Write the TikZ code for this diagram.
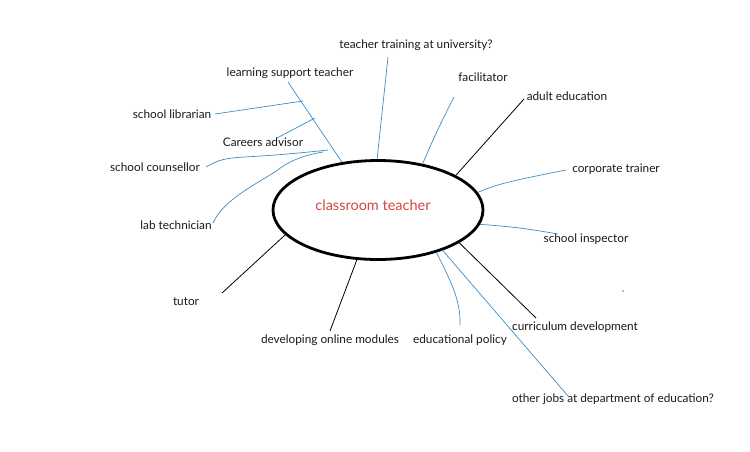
\documentclass[tikz,border=0pt]{standalone}
\usepackage{fontspec}
\setmainfont{Lato}
\usetikzlibrary{shapes.geometric}
\definecolor{lineblue}{RGB}{62,140,196}
\definecolor{ctred}{RGB}{214,69,65}
\definecolor{txt}{RGB}{25,25,25}
\tikzset{
    job/.style={font=\fontsize{11.8}{13}\selectfont, text=txt, inner sep=0pt},
    blueline/.style={draw=lineblue, line width=0.7pt},
    blackline/.style={draw=black, line width=0.8pt}
}

\begin{document}
\begin{tikzpicture}[x=1pt, y=-1pt]
  \useasboundingbox (0,0) rectangle (750,451);
  \node (ct) [ellipse, draw, line width=2.8pt, minimum width=210pt, minimum height=99pt] at (378,210) {};
  \node (ct_t) [text=ctred, font=\fontsize{14.5}{16}\selectfont] at (373,205) {classroom teacher};

  \node (tt) [job] at (416,45) {teacher training at university?};
  \node (lst) [job] at (290,73) {learning support teacher};
  \node (fa) [job] at (483,77) {facilitator};
  \node (ae) [job] at (567,96) {adult education};
  \node (lib) [job] at (172,114) {school librarian};
  \node (ca) [job] at (263,142) {Careers advisor};
  \node (sc) [job] at (155,167) {school counsellor};
  \node (corp) [job] at (616,169) {corporate trainer};
  \node (lab) [job] at (176,225) {lab technician};
  \node (si) [job] at (586,239) {school inspector};
  \node (tu) [job] at (186,302) {tutor};
  \node (dom) [job] at (330,340) {developing online modules};
  \node (ep) [job] at (460,340) {educational policy};
  \node (cd) [job] at (575,327) {curriculum development};
  \node (oj) [job] at (613,399) {other jobs at department of education?};

  \coordinate (tt_e) at (388,57);
  \coordinate (fa_e) at (454,97);
  \coordinate (ae_e) at (524,99);
  \coordinate (corp_e) at (566,170);
  \coordinate (si_e) at (558,234);
  \coordinate (cd_e) at (536,318);
  \coordinate (oj_e) at (568,396);
  \coordinate (ep_e) at (460,325);
  \coordinate (dom_e) at (330,331);
  \coordinate (tu_e) at (222,293);
  \coordinate (lst_e) at (288,82);
  \coordinate (lst_1) at (303,101);
  \coordinate (lst_2) at (315,118);
  \coordinate (lst_3) at (328,150);
  \coordinate (lst_4) at (323,152);
  \coordinate (lib_e) at (215,114);
  \coordinate (ca_e) at (277,138);
  \coordinate (sc_e) at (206,167);
  \coordinate (lab_e) at (213,223);

  % black spokes
  \draw [blackline] (ct.24) -- (ae_e);
  \draw [blackline] (ct.195) -- (tu_e);
  \draw [blackline] (ct.247) -- (dom_e);
  \draw [blackline] (ct.-22) -- (cd_e);

  % blue spokes
  \draw [blueline] (tt_e) -- (ct.91);
  \draw [blueline] (fa_e) to [bend right=2] (ct.46);
  \draw [blueline] (ct.10) .. controls (495,185) and (505,182) .. (corp_e);
  \draw [blueline] (ct.-8) to [bend left=3] (si_e);
  \draw [blueline] (ct.-32) -- (oj_e);
  \draw [blueline] (ct.-36) .. controls (450,280) and (461,300) .. (ep_e);

  % left branch
  \draw [blueline] (lst_e) -- (ct.127);
  \draw [blueline] (lib_e) -- (lst_1);
  \draw [blueline] (ca_e) -- (lst_2);
  \draw [blueline] (sc_e) .. controls (218,160) and (225,158) .. (245,157)
    .. controls (280,155) and (310,152) .. (lst_3);
  \draw [blueline] (lab_e) .. controls (222,203) and (245,190) .. (275,172)
    .. controls (290,160) and (305,155) .. (lst_4);

  \fill [lineblue] (623,291) circle (0.8);
\end{tikzpicture}
\end{document}
